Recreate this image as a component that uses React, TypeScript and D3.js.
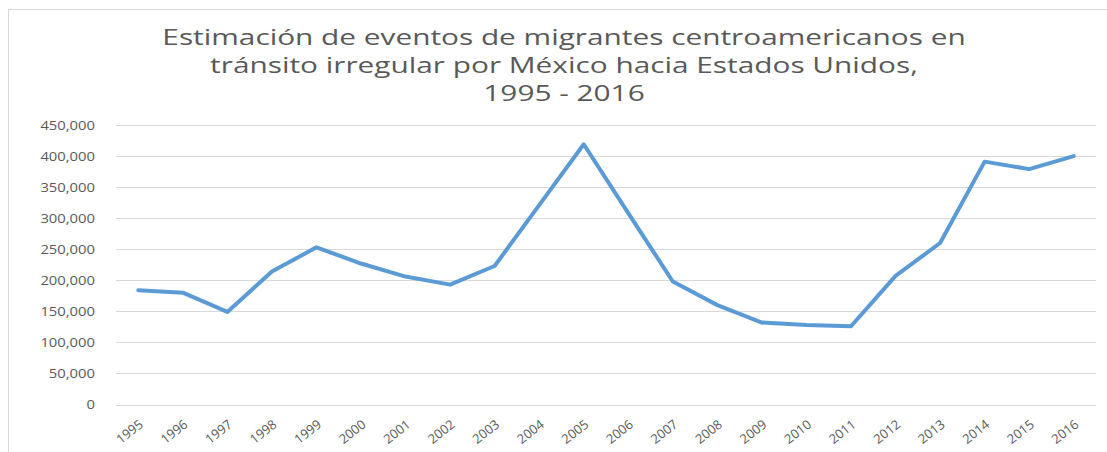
import { useEffect, useRef } from 'react';
import * as d3 from 'd3';

const years = [
  '1995', '1996', '1997', '1998', '1999', '2000', '2001', '2002', '2003', '2004', '2005',
  '2006', '2007', '2008', '2009', '2010', '2011', '2012', '2013', '2014', '2015', '2016',
];
const eventos = [
  184000, 180000, 149000, 214000, 253000, 227000, 206000, 193000, 223000, 321000, 419000,
  308000, 198000, 160000, 132000, 128000, 126000, 207000, 260000, 391000, 379000, 400000,
];
const yTicks = [0, 50000, 100000, 150000, 200000, 250000, 300000, 350000, 400000, 450000];
const titleLines = [
  'Estimación de eventos de migrantes centroamericanos en',
  'tránsito irregular por México hacia Estados Unidos,',
  '1995 - 2016',
];

export default function App() {
  const svgRef = useRef<SVGSVGElement>(null);

  useEffect(() => {
    const svg = d3.select(svgRef.current);
    svg.selectAll('*').remove();
    const width = 1107;
    const height = 452;
    const margin = { top: 125, right: 11, bottom: 47.5, left: 116 };
    const font = "'Open Sans', 'Liberation Sans', sans-serif";
    const grey = '#595959';

    svg.append('rect').attr('x', 0).attr('y', 0).attr('width', width).attr('height', height).attr('fill', '#fff');
    // chart frame
    svg.append('rect')
      .attr('x', 8.5).attr('y', 9.5)
      .attr('width', width + 10).attr('height', height + 10)
      .attr('fill', 'none').attr('stroke', '#d9d9d9');

    const x = d3.scaleBand().domain(years).range([margin.left, width - margin.right]);
    const y = d3.scaleLinear().domain([0, 450000]).range([height - margin.bottom, margin.top]);

    // gridlines
    svg.append('g')
      .selectAll('line')
      .data(yTicks)
      .enter()
      .append('line')
      .attr('x1', margin.left).attr('x2', width - margin.right)
      .attr('y1', (d) => Math.round(y(d)) + 0.5).attr('y2', (d) => Math.round(y(d)) + 0.5)
      .attr('stroke', '#d9d9d9').attr('stroke-width', 1);

    // y labels (source image is stretched horizontally)
    svg.append('g')
      .selectAll('text')
      .data(yTicks)
      .enter()
      .append('text')
      .attr('transform', (d) => `translate(95,${y(d)}) scale(1.14,1)`)
      .attr('dy', '0.35em')
      .attr('text-anchor', 'end')
      .attr('font-family', font).attr('font-size', 13)
      .attr('fill', grey)
      .text((d) => d3.format(',')(d));

    // x labels
    svg.append('g')
      .selectAll('text')
      .data(years)
      .enter()
      .append('text')
      .attr('transform', (d) => `translate(${x(d)! + x.bandwidth() / 2 + 3},${height - margin.bottom + 18}) rotate(-38)`)
      .attr('text-anchor', 'end')
      .attr('dy', '0.35em')
      .attr('font-family', font).attr('font-size', 13)
      .attr('fill', grey)
      .text((d) => d);

    const line = d3.line<number>()
      .x((_, i) => x(years[i])! + x.bandwidth() / 2)
      .y((d) => y(d));

    svg.append('path')
      .datum(eventos)
      .attr('d', line)
      .attr('fill', 'none')
      .attr('stroke', '#5b9bd5')
      .attr('stroke-width', 4)
      .attr('stroke-linejoin', 'round')
      .attr('stroke-linecap', 'round');

    // title
    svg.append('g')
      .selectAll('text')
      .data(titleLines)
      .enter()
      .append('text')
      .attr('transform', (_, i) => `translate(564,${45 + i * 28}) scale(1.42,1)`)
      .attr('text-anchor', 'middle')
      .attr('font-family', font).attr('font-size', 21)
      .attr('fill', grey)
      .text((d) => d);
  }, []);

  return (
    <svg
      ref={svgRef}
      width={1107}
      height={452}
      style={{ position: 'absolute', left: 0, top: 0 }}
    />
  );
}
